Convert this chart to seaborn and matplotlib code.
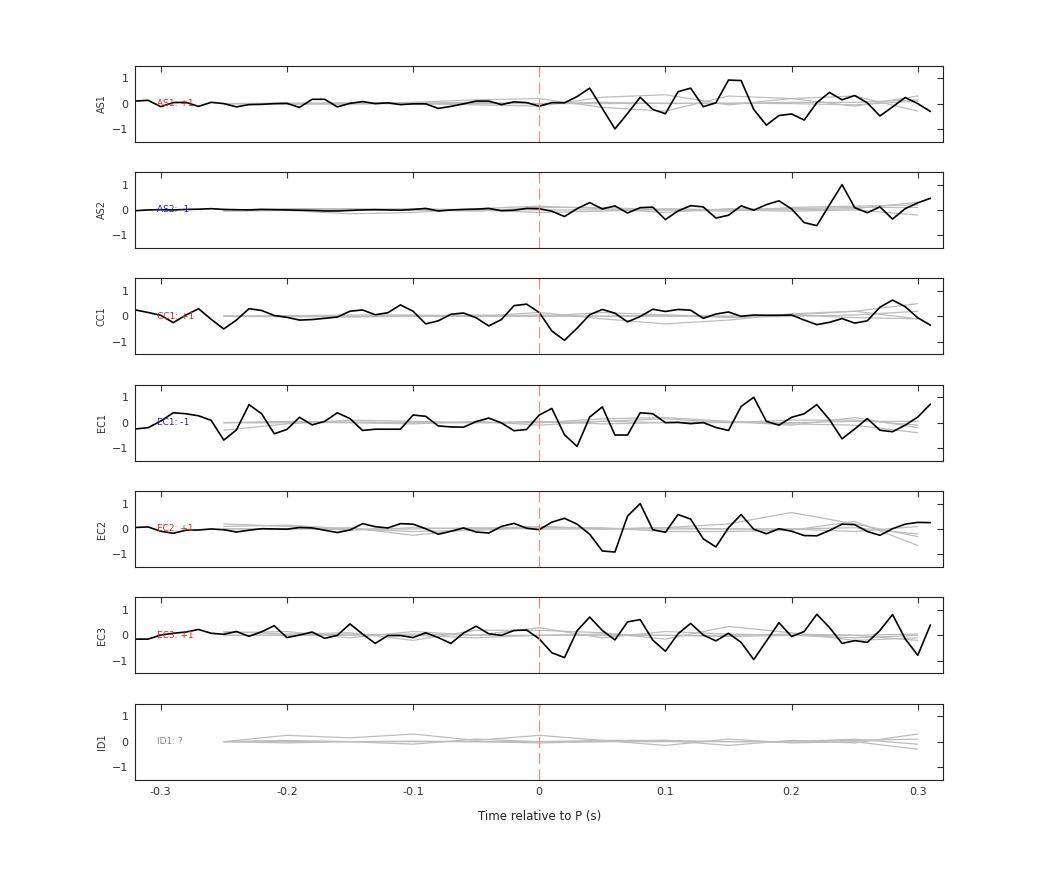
import numpy as np
import pandas as pd
import seaborn as sns
import matplotlib.pyplot as plt

# DATA

time_black = np.round(np.arange(-0.32, 0.315, 0.01), 2)   # 64 samples
time_gray = np.round(np.arange(-0.25, 0.32, 0.05), 2)      # 12 samples

stations = ["AS1", "AS2", "CC1", "EC1", "EC2", "EC3", "ID1"]
polarity = ["+1", "-1", "+1", "-1", "+1", "+1", "?"]
label_colors = ["#e02020", "#2020d0", "#e02020", "#2020d0", "#e02020", "#e02020", "#808080"]

as1 = [0.1, 0.13, -0.12, 0.04, 0.05, -0.11, 0.05, 0, -0.13, -0.04, -0.03, 0, 0.01, -0.15, 0.17, 0.17,
       -0.13, 0.01, 0.08, 0, 0.03, -0.04, -0.01, -0.01, -0.19, -0.11, -0.01, 0.1, 0.1, -0.04, 0.07, 0.04,
       -0.1, 0.04, 0.03, 0.28, 0.61, -0.19, -1.0, -0.39, 0.25, -0.23, -0.4, 0.47, 0.61, -0.12, 0.03, 0.93,
       0.91, -0.23, -0.85, -0.47, -0.41, -0.65, 0.04, 0.44, 0.15, 0.32, 0.03, -0.49, -0.13, 0.24, 0, -0.31]
as2 = [-0.03, 0, 0.01, 0, 0.02, 0.03, 0.05, 0.02, 0.01, 0.0, 0.02, 0.01, 0.0, -0.01, -0.02, -0.04,
       -0.04, -0.02, 0.0, 0.01, 0.0, -0.01, 0.02, 0.06, -0.04, 0.0, 0.02, 0.03, 0.06, -0.03, -0.01, 0.06,
       0.05, -0.05, -0.26, 0.05, 0.29, 0.04, 0.16, -0.12, 0.09, 0.11, -0.38, -0.04, 0.17, 0.12, -0.32, -0.21,
       0.16, -0.01, 0.21, 0.36, 0.04, -0.5, -0.62, 0.2, 1.0, 0.09, -0.11, 0.12, -0.36, 0.05, 0.28, 0.46]
cc1 = [0.25, 0.15, 0.04, -0.25, 0.05, 0.3, -0.12, -0.5, -0.15, 0.3, 0.23, 0.03, -0.04, -0.15, -0.13, -0.08,
       -0.03, 0.2, 0.25, 0.06, 0.14, 0.45, 0.2, -0.3, -0.18, 0.08, 0.13, -0.06, -0.38, -0.13, 0.42, 0.48,
       0.15, -0.58, -0.95, -0.47, 0.06, 0.27, 0.12, -0.22, -0.01, 0.28, 0.19, 0.27, 0.24, -0.08, 0.09, 0.17,
       0, 0.05, 0.04, 0.04, 0.05, -0.15, -0.33, -0.24, -0.09, -0.27, -0.18, 0.36, 0.64, 0.38, -0.06, -0.35]
ec1 = [-0.25, -0.2, 0.06, 0.39, 0.35, 0.27, 0.09, -0.69, -0.29, 0.71, 0.35, -0.44, -0.27, 0.21, -0.09, 0.05,
       0.39, 0.16, -0.31, -0.26, -0.26, -0.26, 0.3, 0.25, -0.13, -0.17, -0.18, 0.04, 0.18, -0.01, -0.32, -0.27,
       0.3, 0.56, -0.48, -0.94, 0.22, 0.62, -0.49, -0.49, 0.39, 0.35, 0, 0.01, -0.04, 0, -0.19, -0.31,
       0.64, 1.0, 0.05, -0.1, 0.21, 0.35, 0.71, 0.12, -0.64, -0.25, 0.16, -0.3, -0.36, -0.1, 0.22, 0.73]
ec2 = [0.06, 0.08, -0.09, -0.17, -0.05, -0.04, 0, -0.03, -0.12, -0.05, 0.01, 0, -0.01, 0.06, 0.04, -0.05,
       -0.14, -0.04, 0.21, 0.09, 0.04, 0.21, 0.19, 0.01, -0.21, -0.09, 0.04, -0.12, -0.16, 0.1, 0.22, 0.03,
       -0.03, 0.27, 0.42, 0.19, -0.21, -0.87, -0.91, 0.51, 1.0, -0.03, -0.13, 0.57, 0.39, -0.39, -0.71, 0.05,
       0.57, -0.01, -0.19, 0.01, -0.09, -0.26, -0.27, -0.06, 0.19, 0.17, -0.1, -0.25, 0.01, 0.19, 0.26, 0.25]
ec3 = [-0.15, -0.15, 0.01, 0.08, 0.13, 0.23, 0.08, 0.04, 0.15, -0.04, 0.14, 0.38, -0.09, 0.01, 0.13, -0.12,
       0, 0.45, 0.05, -0.32, -0.01, -0.01, -0.09, 0.1, -0.09, -0.32, 0.09, 0.36, 0.06, 0, 0.19, 0.21,
       -0.14, -0.69, -0.88, 0.18, 0.72, 0.19, -0.18, 0.53, 0.62, -0.19, -0.63, 0.06, 0.47, 0.01, -0.22, 0.08,
       -0.28, -0.96, -0.23, 0.5, -0.05, 0.15, 0.83, 0.31, -0.32, -0.21, -0.28, 0.19, 0.82, -0.14, -0.79, 0.41]
black_traces = [as1, as2, cc1, ec1, ec2, ec3, None]

# gray synthetic traces, 4 per station, sampled every 0.05 s
gray_traces = [
    [[0, -0.02, 0.0, 0.05, 0.15, 0.2, -0.15, -0.3, 0.3, 0.2, -0.1, 0.3],
     [0, 0.02, 0.03, 0.0, -0.05, -0.1, 0.25, 0.35, -0.05, 0.2, 0.3, -0.3],
     [0, 0.0, -0.02, 0.02, 0.05, 0.0, 0.05, 0.0, 0.02, 0.0, -0.05, 0.1],
     [0, 0.0, 0.0, 0.0, 0.0, 0.0, 0.0, 0.02, 0.0, 0.05, 0.05, 0.15]],
    [[-0.05, -0.02, -0.15, -0.1, 0.05, 0.15, 0.05, -0.1, 0.05, 0.0, 0.05, 0.3],
     [0, 0.05, 0.05, 0.0, -0.05, 0.1, 0.1, 0.0, -0.05, 0.1, 0.15, 0.2],
     [0, 0.0, 0.02, 0.05, 0.0, -0.1, -0.05, 0.05, 0.0, -0.05, 0.0, -0.2],
     [0, 0.0, 0.0, 0.0, 0.02, 0.0, 0.0, 0.0, 0.02, 0.05, 0.1, 0.1]],
    [[0, 0.02, 0.05, 0.05, 0.0, 0.15, -0.1, -0.3, -0.15, 0.1, 0.2, 0.5],
     [0, -0.02, 0.0, 0.02, 0.05, 0.0, 0.15, 0.05, 0.0, 0.05, 0.2, -0.1],
     [0, 0.0, -0.03, 0.0, 0.0, 0.0, 0.0, 0.05, -0.05, 0.0, 0.05, 0.2],
     [0, 0.0, 0.0, 0.0, 0.0, 0.05, 0.0, 0.0, 0.0, 0.05, -0.05, -0.1]],
    [[-0.3, -0.05, 0.1, 0.05, 0.0, 0.0, 0.15, 0.2, 0.05, -0.1, 0.2, -0.2],
     [0, 0.05, 0.0, -0.05, 0.05, -0.1, 0.05, 0.15, 0.0, 0.1, 0.1, -0.1],
     [0, 0.0, 0.03, 0.0, 0.0, 0.05, -0.05, 0.0, 0.05, -0.05, -0.1, -0.4],
     [0, 0.0, 0.0, 0.0, 0.0, 0.0, 0.05, 0.0, 0.0, 0.0, 0.05, 0.05]],
    [[0.2, 0.1, -0.05, 0.05, 0.0, 0.1, 0.0, 0.05, 0.2, 0.65, 0.2, -0.3],
     [0.1, 0.15, 0.0, -0.1, -0.05, 0.05, 0.05, -0.1, -0.1, -0.05, 0.3, -0.65],
     [0, 0.0, 0.05, -0.25, 0.0, 0.1, 0.0, 0.05, 0.0, 0.0, -0.1, 0.1],
     [0, 0.0, 0.0, 0.0, 0.05, 0.0, 0.0, 0.0, 0.0, 0.0, 0.05, -0.2]],
    [[0.15, 0.05, 0.1, -0.2, 0.2, 0.2, 0.1, -0.15, 0.35, 0.1, -0.2, -0.1],
     [0.1, 0.15, -0.1, 0.15, 0.0, 0.3, -0.1, 0.15, 0.05, 0.0, -0.1, 0.0],
     [0, 0.0, 0.05, 0.0, -0.1, 0.0, 0.05, 0.0, -0.05, 0.0, 0.0, -0.2],
     [0, 0.0, 0.0, 0.05, 0.0, 0.0, 0.0, 0.0, 0.0, 0.05, 0.0, 0.05]],
    [[0, 0.25, 0.15, 0.3, 0.05, 0.25, 0.05, -0.15, 0.1, -0.05, 0.0, -0.3],
     [0, -0.05, 0.0, -0.1, 0.1, 0.0, 0.05, 0.05, -0.15, 0.05, -0.05, 0.3],
     [0, 0.05, 0.0, 0.02, 0.0, -0.05, 0.0, 0.05, 0.0, 0.0, 0.1, -0.1],
     [0, 0.0, 0.0, 0.0, 0.0, 0.0, 0.0, 0.0, 0.0, 0.0, 0.05, 0.1]],
]

xticks = [-0.3, -0.2, -0.1, 0, 0.1, 0.2, 0.3]
xtick_labels = ["-0.3", "-0.2", "-0.1", "0", "0.1", "0.2", "0.3"]


# PLOTTING

sns.set_style("white")
plt.rcParams['font.family'] = ['DejaVu Sans']

fig, axes = plt.subplots(7, 1, figsize=(10.42, 8.75), dpi=100, sharex=True)
fig.subplots_adjust(left=0.130, right=0.905, top=0.925, bottom=0.109, hspace=0.4)

for i, ax in enumerate(axes):
    for trace in gray_traces[i]:
        sns.lineplot(x=time_gray, y=trace, ax=ax, color="#bdbdbd", linewidth=0.9)
    if black_traces[i] is not None:
        sns.lineplot(x=time_black, y=black_traces[i], ax=ax, color="black", linewidth=1.2)
    ax.axvline(0, color="#e89090", linestyle=(0, (9, 4)), linewidth=0.9)
    ax.text(-0.303, 0, f"{stations[i]}: {polarity[i]}", color=label_colors[i],
            fontsize=6.5, va="center", ha="left")
    ax.set_xlim(-0.32, 0.32)
    ax.set_ylim(-1.5, 1.5)
    ax.set_yticks([-1, 0, 1])
    ax.set_ylabel(stations[i], fontsize=7, color="#333333")
    ax.set_xticks(xticks)
    ax.tick_params(direction="in", top=True, right=True, length=4,
                   labelsize=8, colors="#333333", width=0.8, pad=5)
    for spine in ax.spines.values():
        spine.set_color("#222222")
        spine.set_linewidth(0.8)

axes[-1].set_xticklabels(xtick_labels)
axes[-1].set_xlabel("Time relative to P (s)", fontsize=8.5, color="#222222", labelpad=10)

plt.savefig("out.png", dpi=100)
